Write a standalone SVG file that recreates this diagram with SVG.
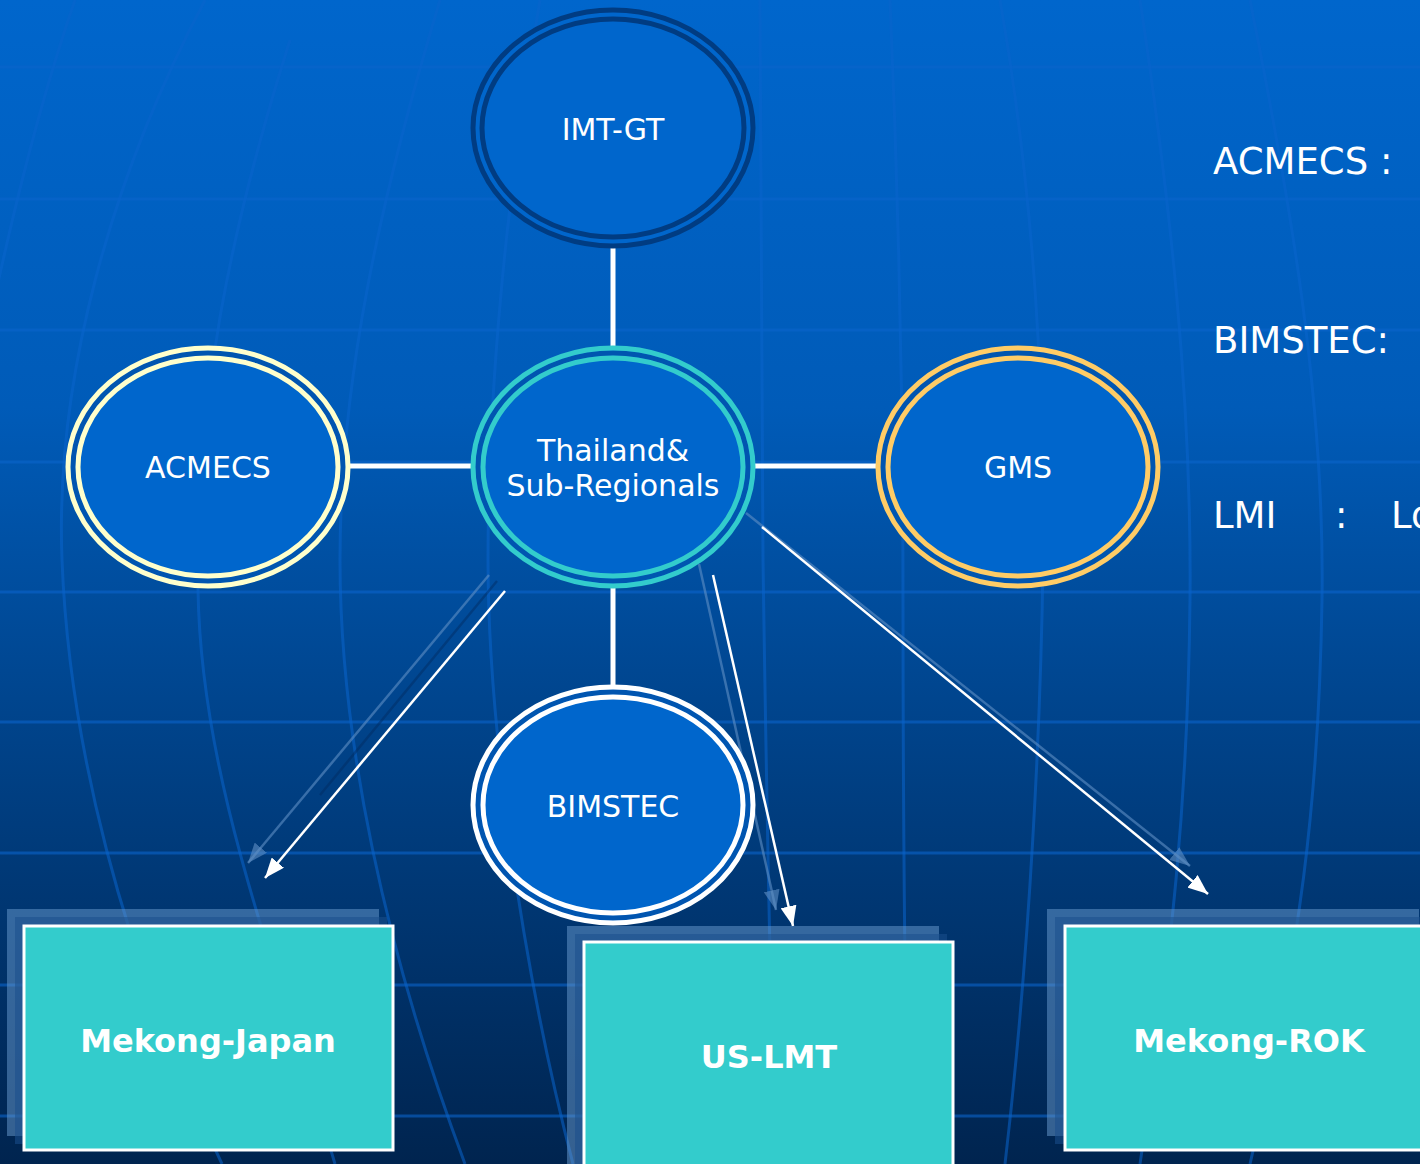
<svg xmlns="http://www.w3.org/2000/svg" width="1420" height="1164" viewBox="0 0 1420 1164">
<defs>
<linearGradient id="bg" x1="0" y1="0" x2="0" y2="1">
<stop offset="0" stop-color="#0066cc"/>
<stop offset="0.35" stop-color="#005bb8"/>
<stop offset="0.6" stop-color="#00458e"/>
<stop offset="1" stop-color="#00244f"/>
</linearGradient>
<marker id="ah" markerUnits="userSpaceOnUse" markerWidth="22" markerHeight="16" refX="20" refY="8" orient="auto">
<path d="M0,0 L20,8 L0,16 z" fill="#ffffff"/>
</marker>
<marker id="ahs" markerUnits="userSpaceOnUse" markerWidth="22" markerHeight="16" refX="20" refY="8" orient="auto">
<path d="M0,0 L20,8 L0,16 z" fill="#5f8fc4" fill-opacity="0.6"/>
</marker>
<style>
.grid{fill:none;stroke:#0a64cc;stroke-width:3;stroke-opacity:0.6}
.mer{fill:none;stroke:#0a64cc;stroke-width:3;stroke-opacity:0.55}
.fill{fill:#0066cc}
.gap{fill:none;stroke:#0055b0;stroke-width:5}
.lbl{font-family:"DejaVu Sans","Liberation Sans",sans-serif;font-size:30px;fill:#ffffff;text-anchor:middle}
.side{font-family:"DejaVu Sans","Liberation Sans",sans-serif;font-size:37px;fill:#ffffff}
.box{fill:#33cccc;stroke:#ffffff;stroke-width:3}
.sh1{fill:#6a9cd0;fill-opacity:0.5}
.sh2{fill:#1a4f8c;fill-opacity:0.55}
.btxt{font-family:"DejaVu Sans","Liberation Sans",sans-serif;font-size:32px;font-weight:bold;fill:#ffffff;text-anchor:middle}
.thick{stroke:#ffffff;stroke-width:5;fill:none}
.arrow{stroke:#ffffff;stroke-width:2.5;fill:none;marker-end:url(#ah)}
.ashl{stroke:#5f8fc4;stroke-opacity:0.6;stroke-width:2.5;fill:none;marker-end:url(#ahs)}
.ashd{stroke:#002a60;stroke-opacity:0.45;stroke-width:2.5;fill:none}
</style>
</defs>

<g id="background">
<rect x="0" y="0" width="1420" height="1164" fill="url(#bg)"/>
<g>
<line class="grid" x1="0" y1="67" x2="1420" y2="67" stroke-opacity="0.2"/>
<line class="grid" x1="0" y1="199" x2="1420" y2="199"/>
<line class="grid" x1="0" y1="330" x2="1420" y2="330"/>
<line class="grid" x1="0" y1="462" x2="1420" y2="462"/>
<line class="grid" x1="0" y1="592" x2="1420" y2="592"/>
<line class="grid" x1="0" y1="722" x2="1420" y2="722"/>
<line class="grid" x1="0" y1="853" x2="1420" y2="853" stroke-opacity="0.15"/>
<line class="grid" x1="0" y1="985" x2="1420" y2="985"/>
<line class="grid" x1="0" y1="1116" x2="1420" y2="1116"/>
</g>
<g>
<path class="mer" d="M75 0 Q30 130 -10 320" stroke-opacity="0.3"/>
<path class="mer" d="M205 0 C110 180 55 380 62 560 S120 950 222 1164"/>
<path class="mer" d="M290 40 C230 230 195 400 198 590 S275 960 335 1164"/>
<path class="mer" d="M440 0 C380 200 340 380 340 560 S385 950 465 1164"/>
<path class="mer" d="M540 0 C505 200 488 400 488 560 S520 960 573 1164"/>
<path class="mer" d="M760 0 L763 560 Q768 900 775 1164"/>
<path class="mer" d="M890 0 Q903 300 903 600 T908 1164"/>
<path class="mer" d="M1000 0 C1035 200 1045 400 1043 560 S1030 950 1005 1164"/>
<path class="mer" d="M1140 0 C1170 200 1192 400 1190 600 S1172 950 1140 1164"/>
<path class="mer" d="M1250 0 C1290 200 1325 400 1322 600 S1300 950 1250 1164"/>
</g>
</g>

<g id="connectors">
<line class="thick" x1="613" y1="240" x2="613" y2="353"/>
<line class="thick" x1="613" y1="580" x2="613" y2="692"/>
<line class="thick" x1="343" y1="466" x2="478" y2="466"/>
<line class="thick" x1="749" y1="466" x2="883" y2="466"/>
<line class="ashl" x1="489" y1="575" x2="248" y2="863"/>
<line class="ashd" x1="497" y1="581" x2="320" y2="795"/>
<line class="arrow" x1="505" y1="591" x2="265" y2="878"/>
<line class="ashl" x1="699" y1="564" x2="776" y2="910"/>
<line class="arrow" x1="713" y1="575" x2="793" y2="926"/>
<line class="ashl" x1="746" y1="513" x2="1190" y2="866"/>
<line class="arrow" x1="762" y1="527" x2="1208" y2="894"/>
</g>

<g id="node-imtgt">
<ellipse class="fill" cx="613" cy="128" rx="140" ry="118"/>
<ellipse cx="613" cy="128" rx="140" ry="118" fill="none" stroke="#003c82" stroke-width="5"/>
<ellipse cx="613" cy="128" rx="131" ry="109" fill="none" stroke="#003c82" stroke-width="5"/>
<text class="lbl" x="613" y="140">IMT-GT</text>
</g>

<g id="node-center">
<ellipse class="fill" cx="613" cy="467" rx="140" ry="119"/>
<ellipse class="gap" cx="613" cy="467" rx="135" ry="114"/>
<ellipse cx="613" cy="467" rx="140" ry="119" fill="none" stroke="#33cccc" stroke-width="5"/>
<ellipse cx="613" cy="467" rx="130" ry="109" fill="none" stroke="#33cccc" stroke-width="5"/>
<text class="lbl" x="613" y="461">Thailand&amp;</text>
<text class="lbl" x="613" y="496">Sub-Regionals</text>
</g>

<g id="node-acmecs">
<ellipse class="fill" cx="208" cy="467" rx="140" ry="119"/>
<ellipse class="gap" cx="208" cy="467" rx="135" ry="114"/>
<ellipse cx="208" cy="467" rx="140" ry="119" fill="none" stroke="#ffffcc" stroke-width="5"/>
<ellipse cx="208" cy="467" rx="130" ry="109" fill="none" stroke="#ffffcc" stroke-width="5"/>
<text class="lbl" x="208" y="478">ACMECS</text>
</g>

<g id="node-gms">
<ellipse class="fill" cx="1018" cy="467" rx="140" ry="119"/>
<ellipse class="gap" cx="1018" cy="467" rx="135" ry="114"/>
<ellipse cx="1018" cy="467" rx="140" ry="119" fill="none" stroke="#ffcc66" stroke-width="5"/>
<ellipse cx="1018" cy="467" rx="130" ry="109" fill="none" stroke="#ffcc66" stroke-width="5"/>
<text class="lbl" x="1018" y="478">GMS</text>
</g>

<g id="node-bimstec">
<ellipse class="fill" cx="613" cy="805" rx="140" ry="118"/>
<ellipse class="gap" cx="613" cy="805" rx="135" ry="113"/>
<ellipse cx="613" cy="805" rx="140" ry="118" fill="none" stroke="#ffffff" stroke-width="5"/>
<ellipse cx="613" cy="805" rx="130" ry="108" fill="none" stroke="#ffffff" stroke-width="5"/>
<text class="lbl" x="613" y="817">BIMSTEC</text>
</g>

<g id="node-mekong-japan">
<rect class="sh1" x="7" y="909" width="372" height="227"/>
<rect class="sh2" x="15" y="917" width="372" height="227"/>
<rect class="box" x="24" y="926" width="369" height="224"/>
<text class="btxt" x="208" y="1052">Mekong-Japan</text>
</g>

<g id="node-us-lmt">
<rect class="sh1" x="567" y="926" width="372" height="260"/>
<rect class="sh2" x="575" y="934" width="372" height="260"/>
<rect class="box" x="584" y="942" width="369" height="240"/>
<text class="btxt" x="769" y="1068">US-LMT</text>
</g>

<g id="node-mekong-rok">
<rect class="sh1" x="1047" y="909" width="372" height="227"/>
<rect class="sh2" x="1055" y="917" width="372" height="227"/>
<rect class="box" x="1065" y="926" width="369" height="224"/>
<text class="btxt" x="1249" y="1052">Mekong-ROK</text>
</g>

<g id="side-text">
<text class="side" x="1213" y="174">ACMECS :</text>
<text class="side" x="1213" y="353">BIMSTEC:</text>
<text class="side" x="1213" y="528">LMI</text>
<text class="side" x="1335" y="528">:</text>
<text class="side" x="1391" y="528">Lo</text>
</g>
</svg>
